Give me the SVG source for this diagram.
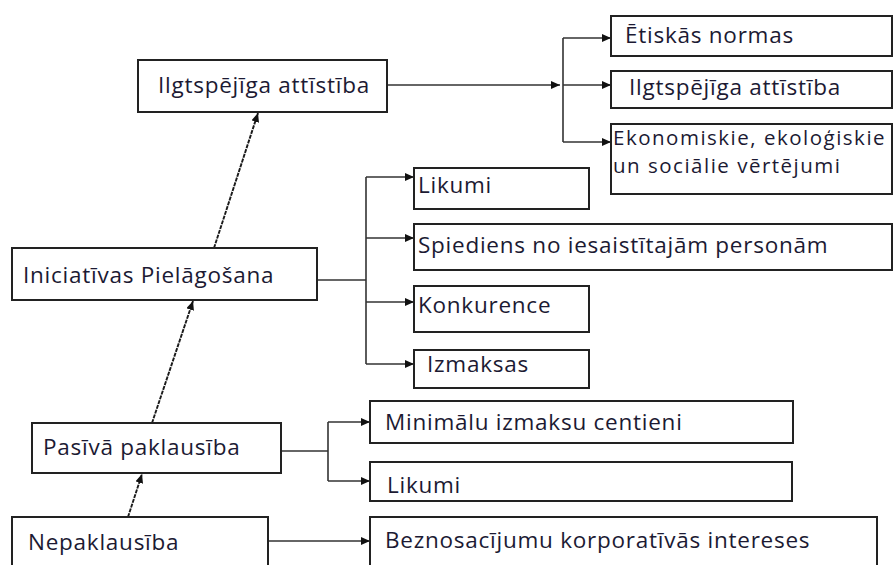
<svg xmlns="http://www.w3.org/2000/svg" width="895" height="565" viewBox="0 0 895 565">
<defs>
<marker id="ah" markerWidth="9" markerHeight="8" refX="9" refY="4" orient="auto" markerUnits="userSpaceOnUse">
<path d="M0,0 L9,4 L0,8 Z" fill="#111"/>
</marker>
<style>
.box{fill:#fff;stroke:#222;stroke-width:2}
.t{font-family:"Open Sans","DejaVu Sans",sans-serif;font-size:22.5px;letter-spacing:0.75px;fill:#1c1a33}
.ts{font-size:20.5px;letter-spacing:1.5px}
.c{fill:none;stroke:#333;stroke-width:1.6}
.ca{fill:none;stroke:#333;stroke-width:1.6;marker-end:url(#ah)}
.cd{fill:none;stroke:#1a1a1a;stroke-width:1.9;stroke-dasharray:4 1;marker-end:url(#ah)}
</style>
</defs>
<rect width="895" height="565" fill="#fff"/>
<g id="connectors">
<path class="cd" d="M214,248 L258,113"/>
<path class="cd" d="M152,423 L193,301"/>
<path class="cd" d="M128,517 L142,474"/>
<path class="ca" d="M387,85 L560,85"/>
<path class="c" d="M563,38 L563,142"/>
<path class="ca" d="M563,38 L611,38"/>
<path class="ca" d="M563,85 L611,85"/>
<path class="ca" d="M563,142 L611,142"/>
<path class="c" d="M317,280 L366,280"/>
<path class="c" d="M366,177 L366,364"/>
<path class="ca" d="M366,177 L414,177"/>
<path class="ca" d="M366,238 L414,238"/>
<path class="ca" d="M366,302 L414,302"/>
<path class="ca" d="M366,364 L414,364"/>
<path class="c" d="M281,451 L328,451"/>
<path class="c" d="M328,422 L328,481"/>
<path class="ca" d="M328,422 L370,422"/>
<path class="ca" d="M328,481 L370,481"/>
<path class="ca" d="M268,541 L370,541"/>
</g>
<g id="n-ilgt"><rect class="box" x="138" y="60" width="249" height="52"/><text class="t" x="158" y="93">Ilgtspējīga attīstība</text></g>
<g id="n-etiskas"><rect class="box" x="611" y="16" width="281" height="40"/><text class="t" x="625" y="43">Ētiskās normas</text></g>
<g id="n-ilgt2"><rect class="box" x="611" y="71" width="281" height="37"/><text class="t" x="629" y="95">Ilgtspējīga attīstība</text></g>
<g id="n-ekon"><rect class="box" x="611" y="124" width="281" height="70"/><text class="t ts" x="613" y="145">Ekonomiskie, ekoloģiskie</text><text class="t ts" x="613" y="173">un sociālie vērtējumi</text></g>
<g id="n-likumi1"><rect class="box" x="414" y="168" width="175" height="41"/><text class="t" x="418" y="193">Likumi</text></g>
<g id="n-spiediens"><rect class="box" x="414" y="224" width="478" height="46"/><text class="t" x="418" y="253">Spiediens no iesaistītajām personām</text></g>
<g id="n-konk"><rect class="box" x="414" y="286" width="175" height="46"/><text class="t" x="418" y="313">Konkurence</text></g>
<g id="n-izm"><rect class="box" x="414" y="350" width="175" height="38"/><text class="t" x="427" y="372">Izmaksas</text></g>
<g id="n-inic"><rect class="box" x="12" y="248" width="305" height="52"/><text class="t" x="23" y="283">Iniciatīvas Pielāgošana</text></g>
<g id="n-pasiva"><rect class="box" x="32" y="423" width="249" height="50"/><text class="t" x="43" y="455">Pasīvā paklausība</text></g>
<g id="n-minim"><rect class="box" x="370" y="401" width="423" height="42"/><text class="t" x="385" y="430">Minimālu izmaksu centieni</text></g>
<g id="n-likumi2"><rect class="box" x="370" y="462" width="422" height="39"/><text class="t" x="387" y="493">Likumi</text></g>
<g id="n-nepak"><rect class="box" x="12" y="517" width="256" height="60"/><text class="t" x="28" y="550">Nepaklausība</text></g>
<g id="n-bezn"><rect class="box" x="370" y="517" width="507" height="60"/><text class="t" x="385" y="548">Beznosacījumu korporatīvās intereses</text></g>
</svg>
